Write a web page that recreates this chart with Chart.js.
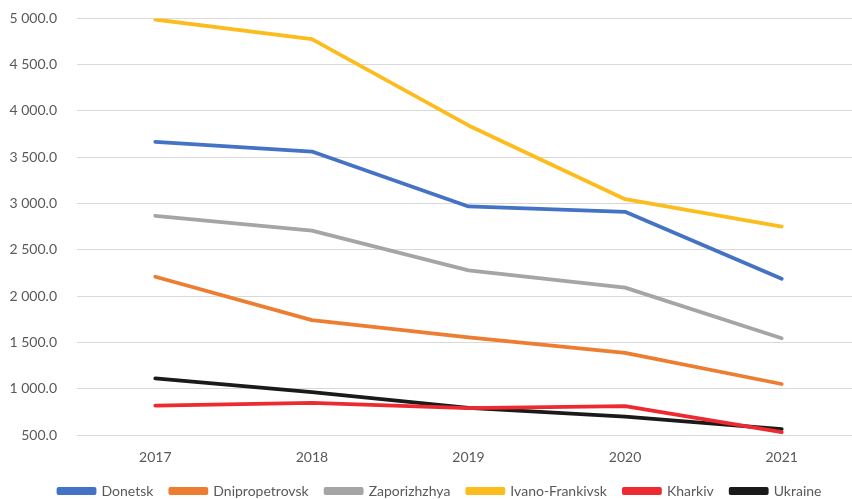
<!DOCTYPE html>
<html>
<head>
<meta charset="utf-8">
<script src="https://cdn.jsdelivr.net/npm/chart.js@4"></script>
<style>
html,body{margin:0;padding:0;background:#fff;overflow:hidden;}
#wrap{width:852px;height:499px;overflow:hidden;position:relative;}
canvas{position:absolute;left:0;top:0;}
</style>
</head>
<body>
<div id="wrap"><canvas id="c" width="880" height="499"></canvas></div>
<script>
const years = ['2017', '2018', '2019', '2020', '2021'];
const donetsk = [3667, 3562, 2969, 2911, 2188];
const dnipropetrovsk = [2209, 1740, 1555, 1387, 1051];
const zaporizhzhya = [2868, 2708, 2279, 2092, 1545];
const ivanoFrankivsk = [4988, 4777, 3844, 3047, 2752];
const kharkiv = [818, 847, 791, 812, 530];
const ukraine = [1111, 964, 793, 698, 563];
const yTicks = [500, 1000, 1500, 2000, 2500, 3000, 3500, 4000, 4500, 5000];

function ds(label, data, color) {
  return {label, data, borderColor: color, backgroundColor: color, borderWidth: 3.8,
    pointRadius: 0, pointHoverRadius: 0, tension: 0, borderCapStyle: 'round', borderJoinStyle: 'round'};
}
function fmt(v) {
  const s = v.toFixed(1);
  const [i, d] = s.split('.');
  return i.replace(/\B(?=(\d{3})+(?!\d))/g, ' ') + '.' + d;
}
const legendShift = {
  id: 'legendShift',
  afterLayout(chart) {
    const l = chart.legend;
    if (l) { l.left += 10; l.right += 10; }
  }
};
const FONT = 'Lato, "Open Sans", sans-serif';
new Chart(document.getElementById('c'), {
  type: 'line',
  data: {
    labels: years,
    datasets: [
      ds('Donetsk', donetsk, '#4472C4'),
      ds('Dnipropetrovsk', dnipropetrovsk, '#ED7D31'),
      ds('Zaporizhzhya', zaporizhzhya, '#A5A5A5'),
      ds('Ivano-Frankivsk', ivanoFrankivsk, '#FCBC1E'),
      ds('Kharkiv', kharkiv, '#EC2A30'),
      ds('Ukraine', ukraine, '#1A1A1A')
    ]
  },
  plugins: [legendShift],
  options: {
    responsive: false,
    maintainAspectRatio: false,
    animation: false,
    devicePixelRatio: 1,
    layout: {padding: {top: 0, right: 20, left: 0, bottom: -9}},
    plugins: {
      tooltip: {enabled: false},
      legend: {
        position: 'bottom',
        labels: {boxWidth: 36, boxHeight: 4, padding: 17, color: '#595959',
          font: {family: FONT, size: 14}}
      }
    },
    scales: {
      x: {
        offset: true,
        grid: {display: false},
        border: {display: false},
        afterFit: (s) => { s.height = 32; },
        ticks: {color: '#595959', font: {family: FONT, size: 14}, padding: 6}
      },
      y: {
        min: 500, max: 5000,
        afterBuildTicks: (s) => { s.ticks = yTicks.map(v => ({value: v})); },
        afterFit: (s) => { s.width = 77; },
        grid: {color: '#D9D9D9', lineWidth: 1, drawTicks: true, tickLength: 10, tickColor: 'rgba(0,0,0,0)'},
        border: {display: false},
        ticks: {color: '#595959', font: {family: FONT, size: 14}, padding: 10,
          callback: (v) => fmt(v)}
      }
    }
  }
});
</script>
</body>
</html>
